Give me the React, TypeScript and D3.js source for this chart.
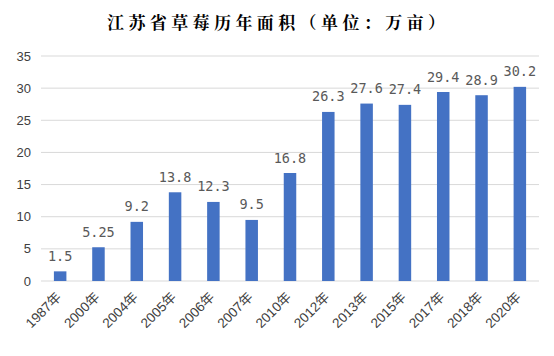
import React from "react";
import * as d3 from "d3";

const categories = ["1987年","2000年","2004年","2005年","2006年","2007年","2010年","2012年","2013年","2015年","2017年","2018年","2020年"];
const values = [1.5, 5.25, 9.2, 13.8, 12.3, 9.5, 16.8, 26.3, 27.6, 27.4, 29.4, 28.9, 30.2];
const valueLabels = ["1.5","5.25","9.2","13.8","12.3","9.5","16.8","26.3","27.6","27.4","29.4","28.9","30.2"];
const yTicks = [0, 5, 10, 15, 20, 25, 30, 35];
const title = "江苏省草莓历年面积（单位：万亩）";

export default function App() {
  const W = 554, H = 356;
  const x = d3.scaleBand<string>().domain(categories).range([41, 539]).paddingInner(0.68).paddingOuter(0.34);
  const y = d3.scaleLinear().domain([0, 35]).range([281, 56]);
  const bw = 12.5;
  return (
    <svg width={W} height={H} style={{ position: "absolute", left: 0, top: 0 }}>
      <rect width={W} height={H} fill="#fff" />
      <text x={107} y={29} textAnchor="start" fontFamily="'Noto Serif CJK SC','Noto Sans CJK SC'" fontWeight="bold" fontSize={17} letterSpacing={4.4} fill="#000">{title}</text>
      {yTicks.map(t => (
        <g key={t}>
          <line x1={41} x2={539} y1={y(t)} y2={y(t)} stroke="#d9d9d9" strokeWidth={1} />
          <text x={31} y={y(t)} dy="0.35em" textAnchor="end" fontFamily="'Liberation Sans', Arial" fontSize={13} fill="#404040">{t}</text>
        </g>
      ))}
      {categories.map((c, i) => {
        const cx = (x(c) as number) + x.bandwidth() / 2;
        return (
          <g key={c}>
            <rect x={cx - bw / 2} y={y(values[i])} width={bw} height={y(0) - y(values[i])} fill="#4472C4" />
            <text x={cx} y={y(values[i]) - 10.5} textAnchor="middle" fontFamily="'DejaVu Sans Mono', monospace" fontSize={13.5} fill="#595959">{valueLabels[i]}</text>
            <text transform={`translate(${cx + 2},${298}) rotate(-45)`} textAnchor="end" fontFamily="'Liberation Sans','Noto Sans CJK SC'" fontSize={13.5} fill="#404040">{c}</text>
          </g>
        );
      })}
    </svg>
  );
}
